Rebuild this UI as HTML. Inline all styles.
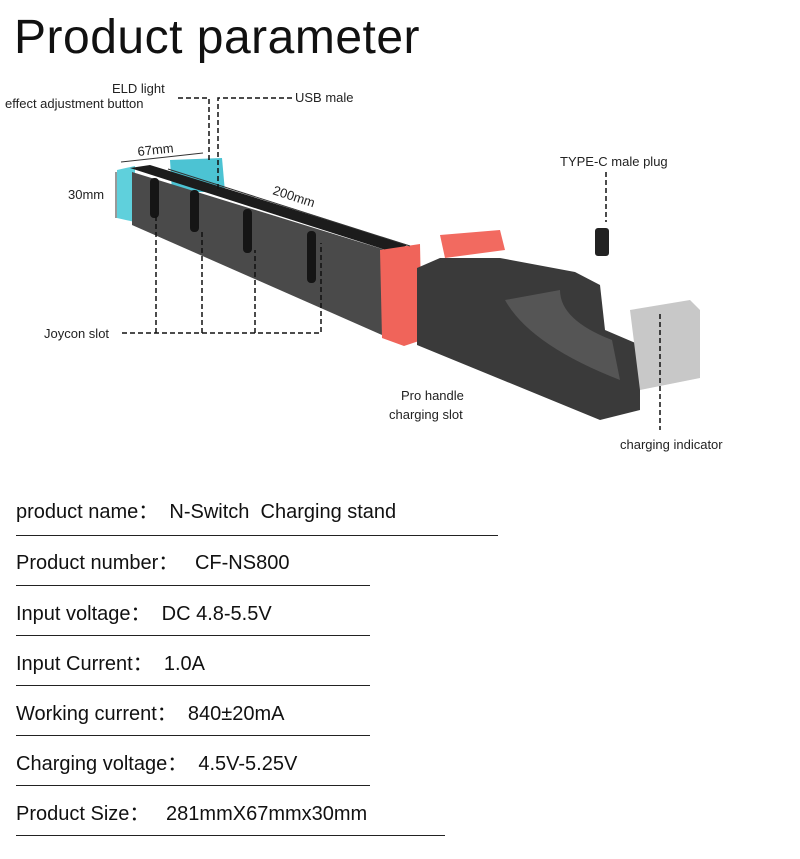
<!DOCTYPE html>
<html><head><meta charset="utf-8"><style>
html,body{margin:0;padding:0;background:#fff;}
body{width:800px;height:859px;position:relative;overflow:hidden;font-family:"Liberation Sans","Noto Sans CJK SC",sans-serif;color:#111;}
.t{position:absolute;left:16px;font-size:20px;white-space:pre;}
.l{position:absolute;left:16px;height:1px;background:#222;}
</style></head><body>
<div style="position:absolute;left:14px;top:10px;font-size:48px;color:#111;letter-spacing:0.5px;">Product parameter</div>
<svg width="800" height="470" style="position:absolute;left:0;top:0" font-family="Liberation Sans, sans-serif">
<polygon points="117,170 135,166 135,222 117,218" fill="#5fd0dc"/>
<polygon points="170,160 222,158 225,192 172,192" fill="#4cc3d3"/>
<polygon points="130,168 150,165 408,245 392,252" fill="#1c1c1c"/>
<polygon points="132,172 392,252 398,342 132,225" fill="#4a4a4a"/>
<polygon points="380,250 420,244 422,340 404,346 382,338" fill="#f0645a"/>
<g fill="#151515">
<rect x="150" y="178" width="9" height="40" rx="4"/>
<rect x="190" y="190" width="9" height="42" rx="4"/>
<rect x="243" y="209" width="9" height="44" rx="4"/>
<rect x="307" y="231" width="9" height="52" rx="4"/>
</g>
<polygon points="440,235 500,230 505,250 445,258" fill="#f26a60"/>
<polygon points="417,268 440,258 500,258 575,272 600,285 605,330 640,345 640,410 600,420 417,345" fill="#3a3a3a"/>
<path d="M505,300 Q530,345 620,380 L612,340 Q560,320 560,290 Z" fill="#555"/>
<polygon points="630,310 690,300 700,310 700,378 640,390" fill="#c8c8c8"/>
<rect x="595" y="228" width="14" height="28" rx="3" fill="#222"/>
<g stroke="#333" stroke-width="1" fill="none">
<line x1="121" y1="162" x2="203" y2="153"/>
<line x1="116" y1="172" x2="116" y2="218"/>
<line x1="168" y1="169" x2="410" y2="246"/>
</g>
<text x="138" y="156" font-size="13" fill="#222" transform="rotate(-6 138 156)">67mm</text>
<text x="68" y="199" font-size="13" fill="#222">30mm</text>
<text x="272" y="194" font-size="13" fill="#222" transform="rotate(18 272 194)">200mm</text>
<g stroke="#111" stroke-width="1.5" stroke-dasharray="5,3" fill="none">
<path d="M178,98 H209 V160"/>
<path d="M292,98 H218 V190"/>
<path d="M122,333 H321 V243"/>
<path d="M156,333 V215"/>
<path d="M202,333 V230"/>
<path d="M255,333 V250"/>
<path d="M606,172 V222"/>
<path d="M660,314 V430"/>
</g>
<g font-size="13" fill="#222">
<text x="112" y="93">ELD light</text>
<text x="5" y="108">effect adjustment button</text>
<text x="295" y="102">USB male</text>
<text x="44" y="338">Joycon slot</text>
<text x="560" y="166">TYPE-C male plug</text>
<text x="401" y="400">Pro handle</text>
<text x="389" y="419">charging slot</text>
<text x="620" y="449">charging indicator</text>
</g>
</svg>
<div class="t" style="top:495px">product name：  N-Switch  Charging stand</div><div class="l" style="top:535px;width:482px"></div>
<div class="t" style="top:546px">Product number：   CF-NS800</div><div class="l" style="top:585px;width:354px"></div>
<div class="t" style="top:597px">Input voltage：  DC 4.8-5.5V</div><div class="l" style="top:635px;width:354px"></div>
<div class="t" style="top:647px">Input Current：  1.0A</div><div class="l" style="top:685px;width:354px"></div>
<div class="t" style="top:697px">Working current：  840±20mA</div><div class="l" style="top:735px;width:354px"></div>
<div class="t" style="top:747px">Charging voltage：  4.5V-5.25V</div><div class="l" style="top:785px;width:354px"></div>
<div class="t" style="top:797px">Product Size：   281mmX67mmx30mm</div><div class="l" style="top:835px;width:429px"></div>
</body></html>
